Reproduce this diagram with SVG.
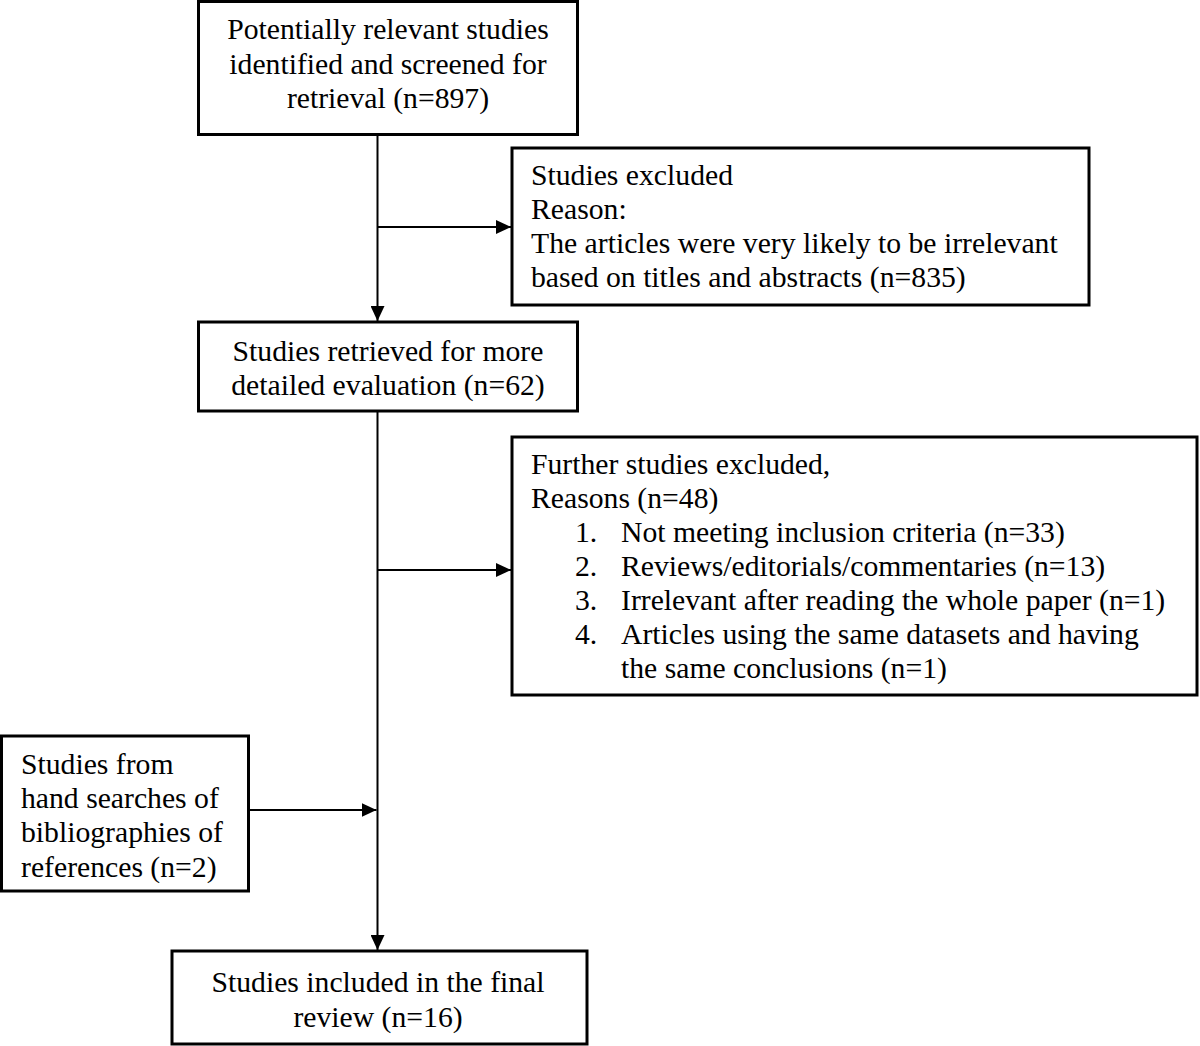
<svg xmlns="http://www.w3.org/2000/svg" width="1200" height="1046" viewBox="0 0 1200 1046">
<defs>
<style>
.box{fill:#fff;stroke:#000;stroke-width:3}
.t{font-family:"Liberation Serif","Times New Roman",serif;font-size:29.7px;fill:#000}
.c{text-anchor:middle}
.ln{fill:none;stroke:#000;stroke-width:2}
</style>
<marker id="ah" markerUnits="userSpaceOnUse" markerWidth="16" markerHeight="14" refX="15" refY="7" orient="auto">
<path d="M0,0 L15,7 L0,14 Z" fill="#000"/>
</marker>
</defs>
<rect width="1200" height="1046" fill="#fff"/>
<g id="connectors">
<line class="ln" x1="377.5" y1="135" x2="377.5" y2="321" marker-end="url(#ah)"/>
<line class="ln" x1="377.5" y1="227" x2="511" y2="227" marker-end="url(#ah)"/>
<line class="ln" x1="377.5" y1="411" x2="377.5" y2="950" marker-end="url(#ah)"/>
<line class="ln" x1="377.5" y1="570" x2="511" y2="570" marker-end="url(#ah)"/>
<line class="ln" x1="249" y1="810" x2="376.5" y2="810" marker-end="url(#ah)"/>
</g>
<g id="n1">
<rect class="box" x="198.5" y="1.5" width="379" height="133"/>
<text class="t c" x="388" y="39">Potentially relevant studies</text>
<text class="t c" x="388" y="73.5">identified and screened for</text>
<text class="t c" x="388" y="108">retrieval (n=897)</text>
</g>
<g id="n2">
<rect class="box" x="512" y="148" width="577" height="157"/>
<text class="t" x="531" y="185">Studies excluded</text>
<text class="t" x="531" y="219">Reason:</text>
<text class="t" x="531" y="253">The articles were very likely to be irrelevant</text>
<text class="t" x="531" y="287">based on titles and abstracts (n=835)</text>
</g>
<g id="n3">
<rect class="box" x="198.5" y="322" width="379" height="89"/>
<text class="t c" x="388" y="361">Studies retrieved for more</text>
<text class="t c" x="388" y="395">detailed evaluation (n=62)</text>
</g>
<g id="n4">
<rect class="box" x="512" y="437" width="685" height="258"/>
<text class="t" x="531" y="474">Further studies excluded,</text>
<text class="t" x="531" y="508">Reasons (n=48)</text>
<text class="t" x="575" y="542">1.</text>
<text class="t" x="621" y="542">Not meeting inclusion criteria (n=33)</text>
<text class="t" x="575" y="576">2.</text>
<text class="t" x="621" y="576">Reviews/editorials/commentaries (n=13)</text>
<text class="t" x="575" y="610">3.</text>
<text class="t" x="621" y="610">Irrelevant after reading the whole paper (n=1)</text>
<text class="t" x="575" y="644">4.</text>
<text class="t" x="621" y="644">Articles using the same datasets and having</text>
<text class="t" x="621" y="678">the same conclusions (n=1)</text>
</g>
<g id="n5">
<rect class="box" x="1.5" y="736" width="247" height="155"/>
<text class="t" x="21" y="774">Studies from</text>
<text class="t" x="21" y="808">hand searches of</text>
<text class="t" x="21" y="842">bibliographies of</text>
<text class="t" x="21" y="877">references (n=2)</text>
</g>
<g id="n6">
<rect class="box" x="172" y="951" width="415" height="93"/>
<text class="t c" x="378" y="992">Studies included in the final</text>
<text class="t c" x="378" y="1027">review (n=16)</text>
</g>
</svg>
